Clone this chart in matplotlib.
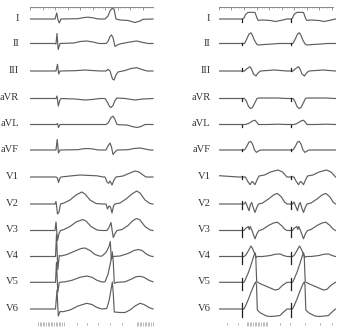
import numpy as np
import matplotlib
matplotlib.use("Agg")
import matplotlib.pyplot as plt

# lead names and baseline row positions (pixels from top)
leads = ["I", "II", "III", "aVR", "aVL", "aVF", "V1", "V2", "V3", "V4", "V5", "V6"]
row_y = [19, 43.5, 71, 98.5, 124.5, 150, 177, 204, 230.5, 256.5, 282.3, 309]

# left panel: full traces, (time, amplitude)
left_traces = {
    "I": [(0, 0), (25, 0), (26.7, 6), (28, -1), (29.3, -4), (31, 0), (48, 0.3), (53, 1.3), (58, 1.8), (63, 1.2),
          (68, 0), (75, 0), (78, 3), (80, 8), (82, 10.5), (84, 10), (86, 0), (90, -1), (98, -1.5), (105, -3.5),
          (110, -2), (113, -0.3), (123, 0)],
    "II": [(0, 0), (25, 0), (26, -0.5), (27, 10), (28.2, -6), (30, 0), (44, 0.5), (50, 2), (56.7, 2.5), (63, 1.5),
           (69, 0), (76, 0), (78, 2), (80, 7), (81.5, 8.5), (83, 6), (85, -3), (88, -1), (92, 0), (100, 1.5),
           (106.7, 2.5), (113, 1), (118, 0), (123, 0)],
    "III": [(0, 0), (26, 0), (27.5, 6.7), (28.7, -3), (30, 0), (45, 0.3), (55, 1), (62, 0.5), (70, 0), (76, 0),
            (78, 1.7), (80, 0), (82.5, -8), (84, -9), (86, -4), (88, -1), (95, 0.5), (101, 2.5), (106.7, 3.3),
            (112, 1.5), (117, 0), (123, 0)],
    "aVR": [(0, 0), (26, 0), (27, 2.5), (28.3, -7.5), (29.7, -2), (31, 0), (45, -0.5), (55, -1.5), (62, -1), (70, 0),
            (75, 0), (77, -3), (79.5, -8), (81, -9), (83, -7), (85, -2), (87, 0.5), (95, 0), (105, -1.5),
            (113, -0.5), (123, 0)],
    "aVL": [(0, 0), (26.5, 0), (27.5, 1), (28.5, -3), (30, 0), (76, 0), (78.5, 2), (81, 7), (83, 8.3), (85, 5),
            (87, 0), (90, -0.3), (97, -0.5), (102, -2), (107, -3), (111, -2), (115, 0), (123, 0)],
    "aVF": [(0, 0), (26, 0), (27.2, 10.5), (28.5, -3), (30, 0), (48, 0.3), (53, 1.2), (58, 1.5), (63, 1), (68, 0),
            (76, 0), (78, 4), (80, 7), (81.5, 3), (83, -4.5), (85, -2), (87, 0), (98, 0.3), (104, 1.5), (110, 2),
            (115, 1), (120, 0), (123, 0)],
    "V1": [(0, 0), (26, 0), (27.5, -1), (28.5, -5.5), (30, -1), (31, 0), (40, 1), (50, 2), (60, 1.5), (67, 1.2),
           (73, 0), (75, 0), (77, -5), (78.5, -6.3), (80, -4), (82, -8), (84, -3), (86, 0), (93, 1), (100, 4),
           (105, 6), (109, 5), (113, 2), (116, 0), (123, 0)],
    "V2": [(0, 0), (25, 0), (26, 2.5), (27.5, -10), (29, -8), (30.5, 0), (34, 1), (40, 4), (46, 9), (51.7, 12),
           (55, 10), (60, 4), (66, 0.5), (72, 0), (76, 0), (77.5, -5), (79, -2), (80.5, -3), (82, -9), (83.5, -2),
           (85, 0), (90, 1), (96, 5), (102, 10), (106.7, 13), (110, 11), (115, 4), (120, 0.5), (123, 0)],
    "V3": [(0, 0), (25, 0), (26, 8.5), (27.5, -10), (29, -3), (30.5, 0), (34, 1), (40, 4), (46, 8.5), (52.7, 11),
           (56, 9.5), (61, 4), (67, 0.5), (72, 0), (77, 0), (79, 3), (81, 8), (82.3, -1), (83.3, -7), (85, -3),
           (87, 0), (92, 1), (98, 5), (103, 10), (106.7, 12), (110, 10.5), (115, 4), (120, 0.5), (123, 0)],
    "V4": [(0, 0), (25.5, 0), (26.5, 22), (27.8, -13), (29.3, 1), (31, 0.5), (37, 2), (45, 5.5), (51, 8), (55, 8.5),
           (60, 6), (65, 2), (70, 0.3), (72, 0.5), (76, 4), (79, 10), (80.3, 15), (81.3, -3), (83, 0), (90, 0.5),
           (98, 3), (104, 6), (108.3, 7), (112, 6), (117, 2), (121, 0.3), (123, 0)],
    "V5": [(0, 0), (25.5, 0), (26.5, 20), (27.8, -10), (29.3, 0), (35, 0.5), (42, 2), (50, 5), (56.7, 6.3), (62, 5),
           (67, 2), (72, 0.3), (75, 0.5), (78, 8), (81, 22), (82.3, 30.5), (83.3, 20), (84.3, -1), (87, 0),
           (95, 0.5), (101, 3), (106, 5.5), (110, 6), (114, 5), (119, 2), (123, 0.5)],
    "V6": [(0, 0), (25.5, 0), (27, 19), (28.3, -7), (30, -2.5), (33, -2.7), (40, -1), (48, 3), (56.7, 5.7),
           (62, 4.5), (67, 1.5), (72, 0), (76.7, 0.5), (79, 8), (81.5, 22), (82.3, 27), (83.3, 15), (84.3, -3),
           (90, -3.5), (95, -3.5), (100, -1), (105, 3), (110, 5.7), (114, 4.5), (119, 1.5), (123, 0)],
}

# right panel: paced beat per lead, (offset from pacing spike, amplitude)
right_spikes = [23.5, 72]
right_start = [0, 0, 0, 0, 0, 0, 1.3, 0, 0, 0, 0, 0]
right_beats = {
    "I": [(-4, 0), (0, 0), (1.5, 1), (3, 4.5), (5.5, 6.5), (9, 6.7), (12.5, 6.5), (14.5, 1), (15.5, -1.3),
          (20, -1), (28, -1.5), (33, -2.5), (38, -1.5), (44.5, 0)],
    "II": [(-4, 0), (2, 0), (4.5, 5), (6.5, 9.5), (8.5, 10.7), (10, 8), (12, 3), (14.5, -1), (16, -1.5),
           (22, -1), (30, -0.5), (36, 0), (44.5, 0)],
    "III": [(-4, 0), (2, 0), (4, 2), (7.5, 4.3), (9, 2), (11, -3), (13.5, -5), (15.5, -2), (18, 0), (25, 0.5),
            (32, 1), (38, 0.5), (44.5, 0)],
    "aVR": [(-4, 0), (2, 0), (4, -3), (6, -8), (8, -10), (10, -9), (12, -5), (14.5, 0), (16, 0.5), (25, 0.5),
            (35, 0.5), (44.5, 0)],
    "aVL": [(-4, 0), (3, 0), (6, 1), (10, 3.5), (12.5, 4.3), (14.5, 2), (16, 0), (25, 0), (35, 0.3), (44.5, 0)],
    "aVF": [(-4, 0), (2, 0), (4.5, 4), (6.5, 8), (8.2, 8.6), (10, 6), (12, 0), (14, -2.4), (16, -1), (18, 0),
            (44.5, 0)],
    "V1": [(-4, 0), (3, 0), (5, -4), (7.5, -7.7), (9.5, -4.5), (10.5, -5), (12.5, -7.7), (14.5, -3), (16.5, 1),
           (22, 2), (28, 5), (35.5, 7), (40, 5), (44.5, 0)],
    "V2": [(-4, 0), (1.5, 0), (3, 2), (6.5, -6.7), (8, -0.5), (9.2, 1.5), (10.5, -3), (12.5, -8.4), (14.5, -3),
           (16, 0), (20, 1), (26, 5), (31, 9), (34.8, 10.6), (39, 7), (42, 2), (44.5, 0)],
    "V3": [(-4, 0), (1.5, 0), (3, 2), (5.8, 4), (6.8, 1), (7.7, 4), (9.5, 0), (12.5, -8.3), (14.5, -3), (16.5, 0),
           (20, 1), (26, 5), (31, 7.5), (34.8, 8.3), (39, 5), (42, 1.5), (44.5, 0)],
    "V4": [(-4, 0), (1.5, 0), (3, 1), (5.5, 5), (8.5, 10.5), (10, 8), (12.5, 2.3), (13.5, -1), (15, 0), (20, 0),
           (28, 1), (33, 2.3), (37.5, 2.5), (41, 1), (44.5, 0)],
    "V5": [(-4, 0), (1.5, 0), (3, 3), (6, 10), (9, 19), (11.5, 27), (12.5, 29.6), (13.2, 27), (14.2, 0.5),
           (18, -1.5), (25, -4.5), (32.5, -7.7), (36, -7), (40, -3), (44.5, 0)],
    "V6": [(-4, 0), (1.5, 0), (3, 3), (6, 10), (9, 18), (12, 25), (13.2, 27), (14, 24), (14.8, -1), (18, -4),
           (24, -7), (28, -7.5), (34, -7), (37.5, -6.5), (40, -4), (44.5, 0)],
}
# pacing spike extent per lead (top, bottom)
spike_top = [0, 1, 2.7, 1, 0, 1, 1, 3, 4, 5, 4.3, 6]
spike_bottom = [-2.5, -1, 0, -2, -2, -1, -1.5, -5, -6, -7, -7.7, -8]

# bottom time-marker positions
left_marks = [76.7, 86.7, 98.3, 110, 121.7]
left_blocks = [(38, 65), (136.7, 153.3)]
right_marks = [226.7, 238.3, 280, 290, 305, 320, 331.7]
right_blocks = [(246.7, 268.3)]

W, H = 337, 327
trace_col = "#5e5e5e"
fig = plt.figure(figsize=(W / 100, H / 100), dpi=100)
fig.patch.set_facecolor("white")

def panel(x0, x1):
    ax = fig.add_axes([x0 / W, 0, (x1 - x0) / W, 1])
    ax.set_xlim(x0, x1)
    ax.set_ylim(-H, 0)
    ax.axis("off")
    return ax

axl = panel(30, 154)
axr = panel(219, 336)

fs = dict(family="Liberation Serif", fontsize=7.6, color="#333333", ha="right", va="center")
for i, name in enumerate(leads):
    base = -row_y[i]
    pts = np.array(left_traces[name])
    axl.plot(pts[:, 0] + 30, pts[:, 1] + base, color=trace_col, lw=0.85)
    axl.text(19, base + 0.5, name, **fs)

    beat = np.array(right_beats[name])
    xs, ys = [219], [base + right_start[i]]
    for s in right_spikes:
        xs.extend(beat[:, 0] + 219 + s)
        ys.extend(beat[:, 1] + base)
    axr.plot(xs, ys, color=trace_col, lw=0.85)
    for s in right_spikes:
        axr.plot([219 + s, 219 + s], [base + spike_bottom[i], base + spike_top[i]], color="#202020", lw=0.9)
    axr.text(210.5, base + 0.5, name, **fs)

# top calibration rulers
for ax, a, b in [(axl, 30, 153), (axr, 219, 333)]:
    ax.plot([a, b], [-6.5, -6.5], color="#777777", lw=0.6)
    small = np.arange(a, b, 2.5)
    ax.vlines(small, -8.3, -6.5, color="#777777", lw=0.4)
    big = np.arange(a, b, 12.5)
    ax.vlines(big, -10, -6.5, color="#777777", lw=0.5)

# bottom markers
for ax, marks, blocks in [(axl, left_marks, left_blocks), (axr, right_marks, right_blocks)]:
    ax.vlines(marks, -325, -323, color="#888888", lw=0.5)
    for a, b in blocks:
        ax.vlines(np.arange(a, b, 1.6), -325.5, -322, color="#888888", lw=0.4)

fig.savefig("out.png", dpi=100, facecolor="white")
